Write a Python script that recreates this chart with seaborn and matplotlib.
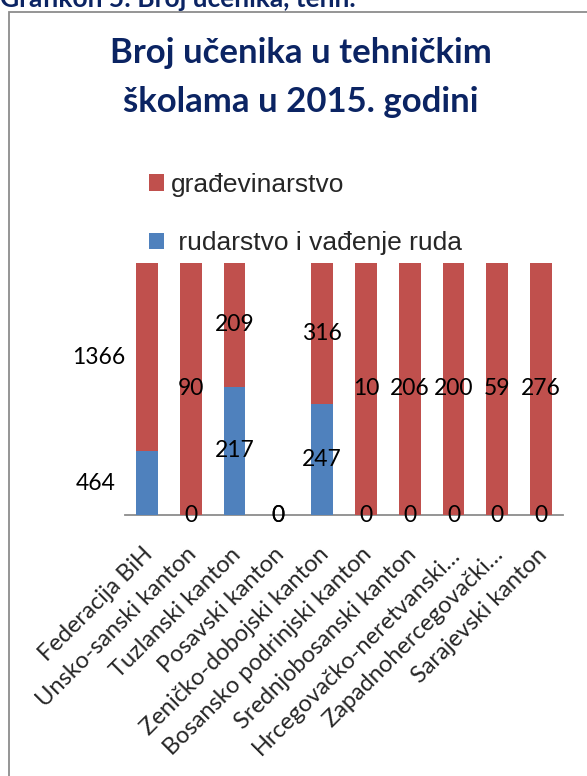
import numpy as np
import pandas as pd
import matplotlib
matplotlib.use('Agg')
import matplotlib.pyplot as plt
import matplotlib.transforms as mtransforms
from matplotlib.patches import Patch, Rectangle
import seaborn as sns

# data
categories = ['Federacija BiH', 'Unsko-sanski kanton', 'Tuzlanski kanton', 'Posavski kanton',
              'Zeničko-dobojski kanton', 'Bosansko podrinjski kanton', 'Srednjobosanski kanton',
              'Hrcegovačko-neretvanski…', 'Zapadnohercegovački…', 'Sarajevski kanton']
rudarstvo = [464, 0, 217, 0, 247, 0, 0, 0, 0, 0]
gradjevinarstvo = [1366, 90, 209, 0, 316, 10, 206, 200, 59, 276]
series_names = ['građevinarstvo', ' rudarstvo i vađenje ruda']
title_lines = ['Broj učenika u tehničkim', 'školama u 2015. godini']
header_text = 'Grafikon 5: Broj učenika, tehn.'

RED = '#C0504D'
BLUE = '#4F81BD'
NAVY = '#0B2463'
W, H = 587, 776

sns.set_style('white')
plt.rcParams['font.family'] = ['Lato', 'DejaVu Sans']

df = pd.DataFrame({'kanton': categories, 'rud': rudarstvo, 'gra': gradjevinarstvo})
total = df['rud'] + df['gra']
safe = total.replace(0, np.nan)
df['rud_udio'] = (df['rud'] / safe).fillna(0)
df['gra_udio'] = (df['gra'] / safe).fillna(0)
df['ukupno'] = df['rud_udio'] + df['gra_udio']

fig = plt.figure(figsize=(W / 100, H / 100), dpi=100)
ax = fig.add_axes([125 / W, (H - 515) / H, 438 / W, 252 / H])

# 100% stacked: full red bar, blue share drawn over it
sns.barplot(data=df, x='kanton', y='ukupno', order=categories, color=RED,
            width=0.5, saturation=1, linewidth=0, ax=ax)
sns.barplot(data=df, x='kanton', y='rud_udio', order=categories, color=BLUE,
            width=0.5, saturation=1, linewidth=0, ax=ax)

ax.set_xlim(-0.5, len(categories) - 0.5)
ax.set_ylim(0, 1)
ax.set_xlabel('')
ax.set_ylabel('')
ax.set_yticks([])
for s in ['left', 'right', 'top']:
    ax.spines[s].set_visible(False)
ax.spines['bottom'].set_color('#8C8C8C')
ax.spines['bottom'].set_linewidth(1.3)
ax.spines['bottom'].set_zorder(0.5)

# data labels at segment centres (first bar's labels sit left of it)
for i, row in df.iterrows():
    xb = xr = i
    if i == 0:
        xb, xr = i - 1.16, i - 1.1
    yb = row['rud_udio'] / 2
    yr = row['rud_udio'] + row['gra_udio'] / 2
    ax.text(xb, yb, f"{row['rud']}", ha='center', va='center', fontsize=16.5, color='black')
    ax.text(xr, yr, f"{row['gra']}", ha='center', va='center', fontsize=16.5, color='black')

ax.set_xticks(range(len(categories)))
ax.set_xticklabels(categories, rotation=45, ha='right', va='center',
                   rotation_mode='anchor', fontsize=17)
ax.tick_params(axis='x', length=0, pad=26)
shift = mtransforms.ScaledTranslation(2 / 72, 0, fig.dpi_scale_trans)
for lbl in ax.get_xticklabels():
    lbl.set_transform(lbl.get_transform() + shift)

# title
fig.text(301 / W, (H - 63) / H, title_lines[0], ha='center', va='baseline',
         fontsize=25, fontweight='bold', color=NAVY)
fig.text(301 / W, (H - 112) / H, title_lines[1], ha='center', va='baseline',
         fontsize=25, fontweight='bold', color=NAVY)

# legend
handles = [Patch(facecolor=RED, edgecolor='none'), Patch(facecolor=BLUE, edgecolor='none')]
fig.legend(handles, series_names, loc='upper left', bbox_to_anchor=(149 / W, (H - 173) / H),
           frameon=False, borderpad=0, borderaxespad=0, handlelength=0.58, handleheight=0.58,
           handletextpad=0.25, labelspacing=1.3,
           prop={'family': ['Liberation Sans', 'DejaVu Sans'], 'size': 19})

# frame of the embedded chart and the cut-off caption above it
fig.add_artist(Rectangle((9 / W, -0.1), 2, (H - 12) / H + 0.1, transform=fig.transFigure,
                         fill=False, edgecolor='#8C8C8C', linewidth=1.3))
fig.text(0.0, (H - 7) / H, header_text, ha='left', va='baseline', fontsize=19,
         fontweight='bold', color=NAVY)

fig.savefig('out.png', dpi=100)
